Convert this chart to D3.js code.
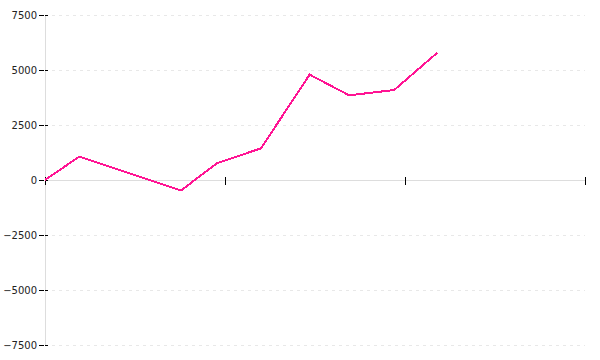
<!DOCTYPE html>
<html>
<head>
<meta charset="utf-8">
<script src="https://cdn.jsdelivr.net/npm/d3@7"></script>
<style>
  body { margin: 0; background: #fff; }
  svg { display: block; font-family: "DejaVu Sans", sans-serif; }
</style>
</head>
<body>
<svg id="chart" width="600" height="360"></svg>
<script>
// values
const xValues = [0, 0.19, 0.755, 0.955, 1.2, 1.47, 1.69, 1.94, 2.18];
const yValues = [0, 1060, -480, 760, 1440, 4790, 3850, 4090, 5790];
const xTicks = [0, 1, 2, 3];
const yTicks = [-7500, -5000, -2500, 0, 2500, 5000, 7500];

const svg = d3.select('#chart');
const plotLeft = 45, plotRight = 585, plotTop = 15, plotBottom = 345;

const x = d3.scaleLinear().domain([0, 3]).range([plotLeft, plotRight]);
const y = d3.scaleLinear().domain([-7500, 7500]).range([plotBottom, plotTop]);

// dashed gridlines
svg.append('g')
    .selectAll('line')
    .data(yTicks.filter(d => d !== 0))
    .enter()
    .append('line')
    .attr('x1', plotLeft + 7)
    .attr('x2', plotRight)
    .attr('y1', d => y(d) + 0.5)
    .attr('y2', d => y(d) + 0.5)
    .attr('stroke', '#e8e8e8')
    .attr('stroke-dasharray', '3,4');

// axis lines
svg.append('line')
    .attr('x1', plotLeft + 0.5).attr('x2', plotLeft + 0.5)
    .attr('y1', plotTop).attr('y2', plotBottom)
    .attr('stroke', '#ddd');
svg.append('line')
    .attr('x1', plotLeft).attr('x2', plotRight)
    .attr('y1', y(0) + 0.5).attr('y2', y(0) + 0.5)
    .attr('stroke', '#ddd');

// y ticks + labels
const yt = svg.append('g')
    .selectAll('g')
    .data(yTicks)
    .enter()
    .append('g')
    .attr('transform', d => `translate(0,${y(d) + 0.5})`);
yt.append('line')
    .attr('x1', plotLeft - 6).attr('x2', plotLeft + 3)
    .attr('stroke', '#000')
    .attr('stroke-dasharray', '5,1');
yt.append('text')
    .attr('x', plotLeft - 8)
    .attr('dy', '0.35em')
    .attr('text-anchor', 'end')
    .style('font-size', '10px')
    .attr('fill', '#222')
    .text(d => d3.format('')(d));

// x ticks
svg.append('g')
    .selectAll('line')
    .data(xTicks)
    .enter()
    .append('line')
    .attr('x1', d => x(d) + 0.5).attr('x2', d => x(d) + 0.5)
    .attr('y1', y(0) - 3).attr('y2', y(0) + 5)
    .attr('stroke', '#000');

// series
const line = d3.line()
    .x((d, i) => x(xValues[i]))
    .y(d => y(d));
svg.append('path')
    .datum(yValues)
    .attr('d', line)
    .attr('fill', 'none')
    .attr('stroke', '#ff1493')
    .attr('stroke-width', 2)
    .attr('shape-rendering', 'crispEdges');
</script>
</body>
</html>
